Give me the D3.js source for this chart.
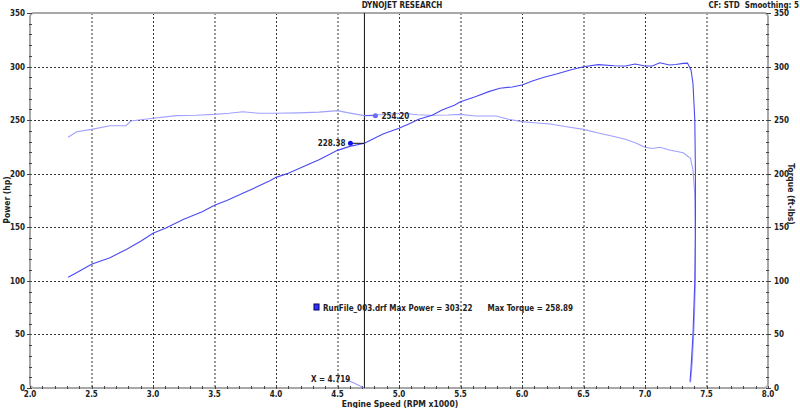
<!DOCTYPE html>
<html><head><meta charset="utf-8">
<script src="https://cdn.jsdelivr.net/npm/d3@7"></script>
<style>
body{margin:0;background:#fff;}
svg{display:block;}
text{font-family:"DejaVu Sans Condensed","DejaVu Sans",sans-serif;font-weight:bold;fill:#222;white-space:pre;}
</style></head><body>
<svg id="c" width="800" height="408"></svg>
<script>
// ---- data ----
const powerRpm = [2.31,2.4,2.5,2.65,2.79,2.9,3.0,3.1,3.25,3.4,3.5,3.6,3.73,3.85,3.95,4.0,4.1,4.22,4.35,4.5,4.6,4.719,4.8,4.87,5.0,5.08,5.16,5.27,5.35,5.45,5.5,5.62,5.73,5.82,5.92,6.0,6.09,6.18,6.28,6.4,6.5,6.62,6.75,6.84,6.92,7.0,7.06,7.12,7.2,7.25,7.31,7.345,7.374,7.39,7.405,7.41,7.41,7.405,7.39,7.375,7.366];
const powerHp = [103.3,109,115.4,121.6,129.7,137,144.5,149,157.4,164.5,170.5,175,181.7,188,193.5,196.6,200.5,206.5,213,221.8,225.5,228.38,233,237,242.4,246.5,250.8,254.5,259.5,264,267.2,271.9,276.6,279.7,281,282.8,286.8,290,293,297,299.9,301.8,300.8,300.5,302.4,300.5,300.5,303.6,301.5,302,303,303.22,296.8,284.4,250,200,150,100,50,20,6];
const torqueRpm = [2.31,2.38,2.5,2.65,2.78,2.82,3.0,3.19,3.35,3.5,3.62,3.73,3.86,4.0,4.18,4.35,4.5,4.58,4.719,4.85,5.03,5.15,5.25,5.4,5.5,5.62,5.74,5.79,5.89,6.0,6.1,6.23,6.35,6.5,6.62,6.73,6.84,6.92,7.0,7.06,7.12,7.2,7.31,7.37,7.39,7.405,7.41,7.41,7.4,7.385,7.37];
const torqueFt = [234,239.2,241.4,244.8,244.8,249.2,251.7,254.2,254.5,255.4,256.5,257.9,256.4,256.4,256.8,257.5,258.89,257,254.2,255,256.4,255,254.5,254.8,255.4,253.8,253.8,253.8,250.8,248.6,247.5,246.4,244,241.4,238,235.2,232.1,229,224.7,223.5,224.7,222.1,219.6,214.4,203.5,180,140,100,60,25,5];
const xTicks = [2.0,2.5,3.0,3.5,4.0,4.5,5.0,5.5,6.0,6.5,7.0,7.5,8.0];
const yTicks = [0,50,100,150,200,250,300,350];
const cursorX = 4.719;
const cursorPower = 228.38;
const cursorTorque = 254.20;
const titleText = "DYNOJET RESEARCH";
const infoText = "CF: STD  Smoothing: 5";
const legendText = "RunFile_003.drf Max Power = 303.22      Max Torque = 258.89";

// ---- chart ----
const svg = d3.select("#c");
const x = d3.scaleLinear().domain([2,8]).range([30,768]);
const y = d3.scaleLinear().domain([0,350]).range([388,13]);
const powerColor = "#4a4af2", torqueColor = "#a0a0ff";

// grid
const g = svg.append("g");
g.selectAll(".vg").data(xTicks.filter(d=>d>2&&d<8)).join("line")
  .attr("x1",d=>x(d)+0.5).attr("x2",d=>x(d)+0.5).attr("y1",y(350)).attr("y2",y(0))
  .attr("stroke","#333").attr("stroke-dasharray","2,2");
g.selectAll(".hg").data(yTicks.filter(d=>d>0&&d<350)).join("line")
  .attr("y1",d=>Math.round(y(d))+0.5).attr("y2",d=>Math.round(y(d))+0.5).attr("x1",x(2)).attr("x2",x(8))
  .attr("stroke","#333").attr("stroke-dasharray","2,2");

// frame
svg.append("rect").attr("x",x(2)).attr("y",y(350)).attr("width",x(8)-x(2)).attr("height",y(0)-y(350))
  .attr("rx",4).attr("fill","none").attr("stroke","#a8a8a8").attr("stroke-width",2);

// minor ticks
const yMinor = d3.range(0,351,10);
svg.selectAll(".ylt").data(yMinor).join("line")
  .attr("x1",d=>d%50===0?x(2)-3:x(2)-1).attr("x2",x(2)+2)
  .attr("y1",d=>Math.round(y(d))+0.5).attr("y2",d=>Math.round(y(d))+0.5).attr("stroke","#444");
svg.selectAll(".yrt").data(yMinor).join("line")
  .attr("x1",x(8)-2).attr("x2",d=>d%50===0?x(8)+3:x(8)+1)
  .attr("y1",d=>Math.round(y(d))+0.5).attr("y2",d=>Math.round(y(d))+0.5).attr("stroke","#444");
const xMinor = d3.range(0,61).map(i=>2+i*0.1);
svg.selectAll(".xt").data(xMinor).join("line")
  .attr("x1",d=>Math.round(x(d))+0.5).attr("x2",d=>Math.round(x(d))+0.5)
  .attr("y1",y(0)-2).attr("y2",y(0)+1).attr("stroke","#444");

// tick labels
svg.selectAll(".yl").data(yTicks).join("text")
  .attr("x",25).attr("y",d=>y(d)+3).attr("text-anchor","end").attr("font-size",8).text(d=>d);
svg.selectAll(".yr").data(yTicks).join("text")
  .attr("x",774).attr("y",d=>y(d)+3).attr("text-anchor","start").attr("font-size",8).text(d=>d);
svg.selectAll(".xl").data(xTicks).join("text")
  .attr("x",d=>x(d)).attr("y",397).attr("text-anchor","middle").attr("font-size",8).text(d=>d.toFixed(1));

// titles
svg.append("text").attr("x",402).attr("y",8).attr("text-anchor","middle").attr("font-size",8).text(titleText);
svg.append("text").attr("x",799).attr("y",8).attr("text-anchor","end").attr("font-size",8).text(infoText);
svg.append("text").attr("x",400).attr("y",407).attr("text-anchor","middle").attr("font-size",8.5).text("Engine Speed (RPM x1000)");
svg.append("text").attr("transform","translate(10,200) rotate(-90)").attr("text-anchor","middle").attr("font-size",8.5).text("Power (hp)");
svg.append("text").attr("transform","translate(788,194) rotate(90)").attr("text-anchor","middle").attr("font-size",8.5).text("Torque (ft-lbs)");

// cursor line
svg.append("line").attr("x1",x(cursorX)).attr("x2",x(cursorX)).attr("y1",y(350)).attr("y2",y(0)).attr("stroke","#111").attr("stroke-width",1);

// curves
const line = d3.line().x(d=>x(d[0])).y(d=>y(d[1]));
svg.append("path").datum(d3.zip(torqueRpm,torqueFt)).attr("d",line).attr("fill","none")
  .attr("stroke",torqueColor).attr("stroke-width",1.1);
svg.append("path").datum(d3.zip(powerRpm,powerHp)).attr("d",line).attr("fill","none")
  .attr("stroke",powerColor).attr("stroke-width",1.1);

// cursor annotations
svg.append("line").attr("x1",x(cursorX)).attr("x2",x(cursorX)-14).attr("y1",y(cursorPower)).attr("y2",y(cursorPower)).attr("stroke","#111");
svg.append("circle").attr("cx",x(cursorX)-14).attr("cy",y(cursorPower)).attr("r",2.5).attr("fill","#1010f0");
svg.append("text").attr("x",x(cursorX)-19).attr("y",y(cursorPower)+3).attr("text-anchor","end").attr("font-size",8).text(cursorPower.toFixed(2));
svg.append("line").attr("x1",x(cursorX)).attr("x2",x(cursorX)+11).attr("y1",y(cursorTorque)).attr("y2",y(cursorTorque)).attr("stroke","#5a5af0");
svg.append("circle").attr("cx",x(cursorX)+11).attr("cy",y(cursorTorque)).attr("r",2.5).attr("fill","#6a6aff");
svg.append("text").attr("x",x(cursorX)+17).attr("y",y(cursorTorque)+3).attr("text-anchor","start").attr("font-size",8).text(cursorTorque.toFixed(2));

// X = label
svg.append("line").attr("x1",x(cursorX)-19).attr("y1",y(0)-9).attr("x2",x(cursorX)).attr("y2",y(0)).attr("stroke","#8888ff");
svg.append("text").attr("x",311).attr("y",382).attr("font-size",8).text("X = "+cursorX);

// legend
svg.append("rect").attr("x",314).attr("y",304).attr("width",5).attr("height",6).attr("fill","#3030ff").attr("stroke","#000060").attr("stroke-width",1);
svg.append("text").attr("x",323).attr("y",311).attr("font-size",8).text(legendText);
</script></body></html>
